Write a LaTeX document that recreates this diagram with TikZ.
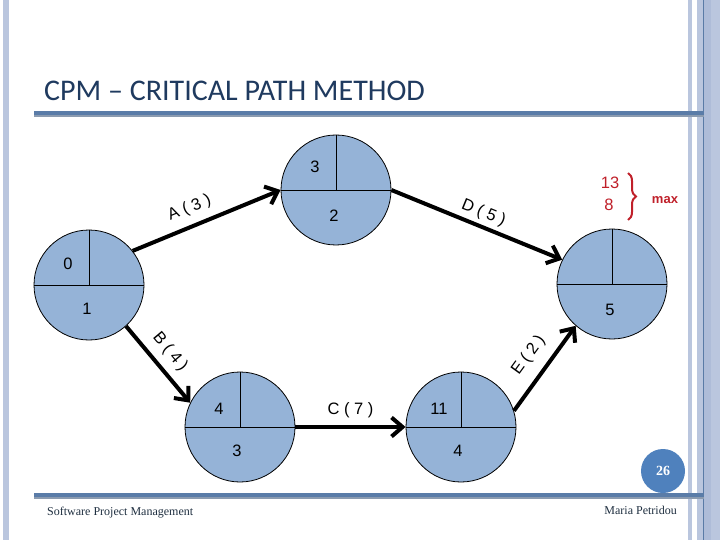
\documentclass[tikz,border=0pt]{standalone}
\usepackage{fontspec}
\setmainfont{Liberation Sans}
\newfontfamily\titlefont{Carlito}
\newfontfamily\footfont{Liberation Serif}
\usepackage{tikz}
\usetikzlibrary{calc}
\usetikzlibrary{arrows.meta}
\usetikzlibrary{decorations.pathreplacing}

\definecolor{barblue}{HTML}{BAC6DE}
\definecolor{bardark}{HTML}{AEBCD8}
\definecolor{barline}{HTML}{5A7BA6}
\definecolor{ruleblue}{HTML}{5A7CA8}
\definecolor{rulegray}{HTML}{8B9BB0}
\definecolor{eventblue}{HTML}{95B3D7}
\definecolor{titleblue}{HTML}{1F3A5F}
\definecolor{maxred}{HTML}{C0202A}
\definecolor{pageblue}{HTML}{4F81BD}
\definecolor{foottext}{HTML}{1F2F40}

\tikzset{
  event/.style={circle, draw=black, line width=0.8pt, fill=eventblue, minimum size=110pt, inner sep=0pt},
  split/.style={line width=0.6pt},
  time/.style={font=\fontsize{16.5}{18}\selectfont},
  activity/.style={line width=4pt, -{Straight Barb[length=11pt,width=19pt]}},
  actname/.style={sloped, inner sep=0pt, font=\fontsize{16.5}{18}\selectfont}
}

\begin{document}
\begin{tikzpicture}[x=1pt, y=-1pt]
            \useasboundingbox (0,0) rectangle (720,540);
            \fill[white] (0,0) rectangle (720,540);
            \fill[barblue] (3,0) rectangle (9,540);
            \fill[barblue] (688,0) rectangle (692,540);
            \fill[barblue] (697,0) rectangle (720,540);
            \fill[bardark] (704,0) rectangle (711,540);
            \fill[barline] (703,0) rectangle (704,540);

            \node[circle, fill=pageblue, minimum size=44pt, inner sep=0pt, text=white, font=\footfont\bfseries\fontsize{14}{14}\selectfont] (pagenum) at (663,471) {26};

            \fill[ruleblue] (34,111) rectangle (704,115);
            \fill[rulegray] (34,115) rectangle (704,117);
            \fill[ruleblue] (34,493) rectangle (704,497);
            \fill[rulegray] (34,497) rectangle (704,499);

            \node[anchor=base west, inner sep=0pt, text=titleblue, font=\titlefont\fontsize{30}{32}\selectfont] (title) at (44,101) {CPM – CRITICAL PATH METHOD};

            \node[event] (e1) at (89,285) {};
            \node[event] (e2) at (336,190) {};
            \node[event] (e3) at (240,427) {};
            \node[event] (e4) at (461,427) {};
            \node[event] (e5) at (612,284) {};
            \foreach \e in {e1,e2,e3,e4,e5} {
                \draw[split] (\e.west) -- (\e.east);
                \draw[split] (\e.north) -- (\e.center);
            }

            \node[time] (e1early) at ($(e1)+(-21,-21)$) {0};
            \node[time] (e1late) at ($(e1)+(-2,24)$) {1};
            \node[time] (e2early) at ($(e2)+(-21,-23)$) {3};
            \node[time] (e2late) at ($(e2)+(-2,26)$) {2};
            \node[time] (e3early) at ($(e3)+(-21,-18)$) {4};
            \node[time] (e3late) at ($(e3)+(-3,24)$) {3};
            \node[time] (e4early) at ($(e4)+(-22,-18)$) {11};
            \node[time] (e4late) at ($(e4)+(-3,24)$) {4};
            \node[time] (e5late) at ($(e5)+(-2,26)$) {5};

            \draw[activity] (e1.38) -- node[actname, pos=0.43, above=8pt] {A ( 3 )} (e2.west);
            \draw[activity] (e2.east) -- node[actname, pos=0.51, above=3.5pt] {D ( 5 )} (e5.154);
            \draw[activity] (e1.-48) -- node[actname, pos=0.48, above=7.5pt] {B ( 4 )} (e3.154);
            \draw[activity] (e3.east) -- node[actname, above=7pt] {C ( 7 )} (e4.west);
            \draw[activity] (e4.17) -- node[actname, pos=0.51, above=11pt] {E ( 2 )} (e5.229);

            \node[time, text=maxred] (top13) at (610,183) {13};
            \node[time, text=maxred] (top8) at (609,205) {8};
            \draw[maxred, line width=2pt, decorate, decoration={brace, amplitude=8pt}] (628,173) -- (628,220);
            \node[text=maxred, font=\bfseries\fontsize{13}{14}\selectfont] (maxnote) at (665,200) {max};

            \node[anchor=base west, inner sep=0pt, text=foottext, font=\footfont\fontsize{12}{14}\selectfont] (course) at (47,515) {Software Project Management};
            \node[anchor=base east, inner sep=0pt, text=foottext, font=\footfont\fontsize{12}{14}\selectfont] (author) at (677,514) {Maria Petridou};

        \end{tikzpicture}
\end{document}
